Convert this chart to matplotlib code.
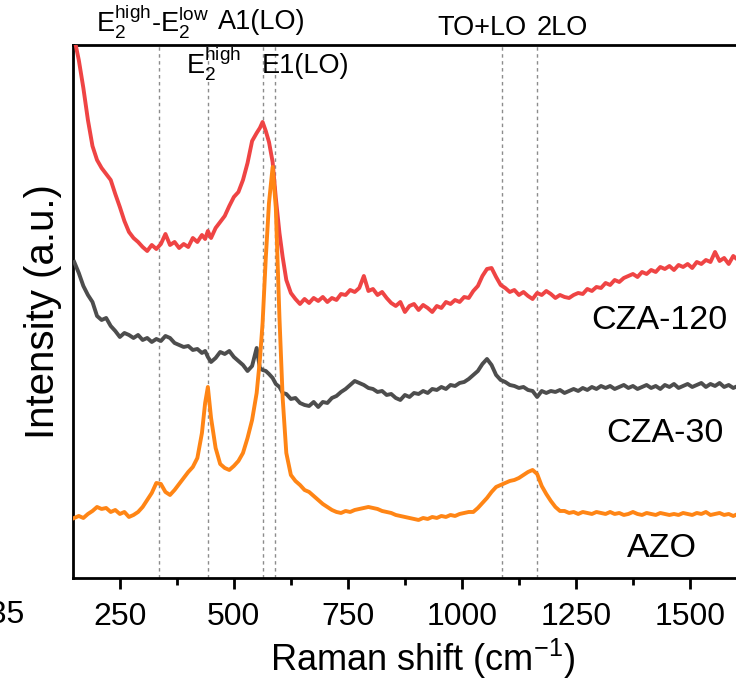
import matplotlib
matplotlib.use("Agg")
import matplotlib.pyplot as plt
import matplotlib.transforms as mtransforms

plt.rcParams["font.family"] = ["Liberation Sans", "DejaVu Sans"]
plt.rcParams["mathtext.default"] = "regular"

# Raman shift (cm-1), shared by the three spectra
shift = [150, 160, 170, 180, 190, 200, 210, 220, 230, 240, 250, 260, 270, 280, 290,
         300, 310, 320, 330, 340, 350, 360, 370, 380, 390, 400, 410, 420, 430, 437,
         443, 450, 460, 470, 480, 490, 500, 510, 520, 530, 540, 550, 557, 563, 570,
         577, 585, 592, 600, 607, 615, 625, 635, 645, 655, 665, 675, 685, 695, 705,
         715, 725, 735, 745, 755, 765, 775, 785, 795, 805, 815, 825, 835, 845, 855,
         865, 875, 885, 895, 905, 915, 925, 935, 945, 955, 965, 975, 985, 995, 1005,
         1015, 1025, 1035, 1045, 1055, 1065, 1075, 1085, 1095, 1105, 1115, 1125, 1135, 1145, 1155,
         1165, 1175, 1185, 1195, 1205, 1215, 1225, 1235, 1245, 1255, 1265, 1275, 1285, 1295, 1305,
         1315, 1325, 1335, 1345, 1355, 1365, 1375, 1385, 1395, 1405, 1415, 1425, 1435, 1445, 1455,
         1465, 1475, 1485, 1495, 1505, 1515, 1525, 1535, 1545, 1555, 1565, 1575, 1585, 1595, 1600]

cza120 = [540, 518, 490, 458, 432, 418, 410, 404, 398, 384, 371, 357, 346, 340, 336,
          331, 327, 333, 329, 334, 344, 333, 336, 330, 334, 331, 340, 336, 343, 339,
          347, 340, 350, 356, 362, 372, 381, 386, 398, 415, 437, 445, 450, 456, 447,
          436, 416, 380, 345, 321, 298, 285, 279, 274, 279, 275, 280, 277, 281, 276,
          280, 278, 284, 283, 288, 286, 290, 302, 287, 289, 283, 286, 280, 275, 272,
          276, 266, 272, 274, 268, 273, 270, 266, 272, 270, 276, 274, 278, 276, 281,
          280, 287, 292, 302, 309, 310, 301, 293, 290, 286, 288, 283, 286, 282, 279,
          285, 283, 287, 284, 280, 283, 281, 280, 283, 285, 284, 289, 287, 291, 290,
          295, 293, 298, 296, 300, 302, 304, 301, 306, 304, 308, 306, 311, 309, 312,
          308, 313, 311, 314, 310, 316, 314, 318, 316, 326, 317, 320, 314, 322, 320]

cza30 = [316, 305, 292, 283, 276, 262, 258, 260, 252, 247, 241, 245, 243, 240, 243,
         238, 240, 236, 239, 237, 242, 240, 235, 233, 231, 232, 228, 229, 225, 227,
         221, 216, 220, 226, 224, 227, 221, 217, 213, 207, 212, 230, 210, 208, 207,
         204, 200, 194, 191, 185, 184, 179, 180, 175, 173, 172, 176, 171, 176, 175,
         180, 182, 186, 189, 193, 197, 195, 193, 190, 189, 186, 187, 183, 184, 180,
         178, 183, 181, 185, 184, 187, 185, 189, 188, 191, 189, 193, 192, 195, 196,
         199, 203, 207, 214, 219, 213, 203, 198, 196, 193, 192, 190, 191, 188, 187,
         181, 187, 185, 187, 186, 188, 185, 187, 189, 187, 190, 188, 191, 189, 192,
         190, 192, 189, 191, 193, 190, 192, 189, 191, 193, 190, 192, 189, 193, 191,
         194, 190, 192, 194, 191, 193, 195, 191, 194, 192, 195, 191, 193, 190, 191]

azo = [60, 62, 60, 64, 67, 71, 69, 70, 66, 68, 64, 66, 61, 63, 66,
       71, 78, 85, 95, 94, 86, 83, 88, 94, 100, 106, 111, 120, 145, 175,
       191, 160, 130, 114, 110, 108, 112, 117, 125, 140, 158, 185, 218, 255, 320,
       375, 411, 370, 260, 180, 125, 103, 97, 93, 88, 86, 82, 78, 74, 71,
       68, 66, 65, 67, 66, 68, 69, 70, 71, 70, 69, 67, 66, 65, 63,
       62, 61, 60, 59, 58, 60, 59, 61, 60, 62, 61, 63, 62, 64, 65,
       66, 66, 70, 75, 80, 86, 91, 93, 95, 97, 98, 100, 103, 106, 108,
       104, 92, 84, 77, 71, 67, 67, 65, 66, 64, 66, 65, 64, 66, 65,
       64, 66, 64, 65, 63, 64, 66, 64, 63, 65, 64, 63, 65, 64, 63,
       64, 63, 65, 64, 63, 65, 64, 66, 63, 64, 65, 63, 64, 62, 63]

# phonon mode markers
mode_pos = [335, 443, 564, 590, 1088, 1164]
mode_labels = [r"E$_2^{high}$-E$_2^{low}$", r"E$_2^{high}$", "A1(LO)", "E1(LO)", "TO+LO", "2LO"]

sample_names = ["CZA-120", "CZA-30", "AZO"]

fig = plt.figure(figsize=(7.36, 6.87), dpi=100)
ax = fig.add_axes([0.099, 0.1587, 0.901, 0.7758])

for p in mode_pos:
    ax.axvline(p, color="#8c8c8c", lw=1.0, ls=(0, (2.5, 2.5)), zorder=1)

ax.plot(shift, cza120, color="#ef4444", lw=2.8, zorder=3)
ax.plot(shift, cza30, color="#4d4d4d", lw=2.8, zorder=3)
ax.plot(shift, azo, color="#ff8515", lw=2.8, zorder=4)

ax.set_xlim(147, 1601)
ax.set_ylim(0, 533)
ax.set_xticks([250, 500, 750, 1000, 1250, 1500])
ax.set_xticks([375, 625, 875, 1125, 1375], minor=True)
ax.set_yticks([])
ax.tick_params(axis="x", which="major", direction="out", length=8, width=2, labelsize=23, pad=9)
ax.tick_params(axis="x", which="minor", direction="out", length=5, width=2)
for side in ["left", "bottom", "top"]:
    ax.spines[side].set_linewidth(2)
ax.spines["right"].set_visible(False)

ax.set_xlabel("Raman shift (cm$^{-1}$)", fontsize=26, labelpad=4)
ax.xaxis.set_label_coords(0.527, -0.11)
ax.set_ylabel("Intensity (a.u.)", fontsize=29, labelpad=8)

trans = mtransforms.blended_transform_factory(ax.transData, ax.transAxes)
label_spots = [(322, 1.044), (456, 0.965), (561, 1.044), (658, 0.960), (1044, 1.032), (1221, 1.032)]
for lab, (lx, ly) in zip(mode_labels, label_spots):
    ax.text(lx, ly, lab, transform=trans, ha="center", va="center", fontsize=19.5, clip_on=False)

name_spots = [(1434, 0.484), (1445, 0.271), (1438, 0.056)]
for nm, (nx, ny) in zip(sample_names, name_spots):
    ax.text(nx, ny, nm, transform=trans, ha="center", va="center", fontsize=24.5)

# stray tick label cut off at the left edge of the original
fig.text(25 / 736, 1 - 615 / 687, "135", ha="right", va="center", fontsize=23)

fig.savefig("out.png", dpi=100)
